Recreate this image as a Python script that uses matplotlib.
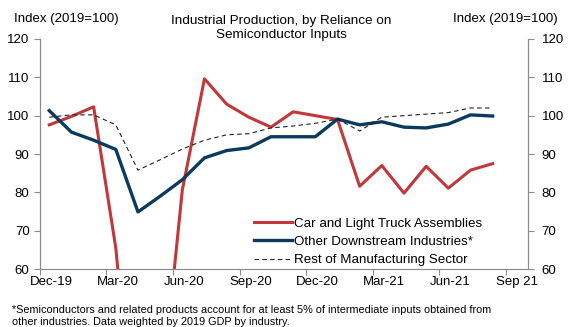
import numpy as np
import matplotlib
matplotlib.use('Agg')
import matplotlib.pyplot as plt

plt.rcParams['font.family'] = ['Liberation Sans', 'DejaVu Sans']

# monthly data, Dec 2019 .. Aug 2021
months = np.arange(21)
cars = [97.6, 99.8, 102.3, 65.5, 5.0, 23.5, 80.6, 109.6, 103.0, 99.6, 97.0,
        101.0, 100.0, 99.0, 81.6, 87.0, 79.8, 86.8, 81.1, 85.8, 87.5]
downstream = [101.3, 95.7, 93.6, 91.2, 74.9, 79.0, 83.3, 89.0, 90.9, 91.6, 94.5,
              94.5, 94.5, 99.1, 97.6, 98.4, 97.0, 96.8, 97.8, 100.2, 99.9]
rest = [99.6, 100.2, 100.2, 97.6, 85.8, 88.5, 91.3, 93.6, 95.0, 95.3, 96.8,
        97.3, 98.0, 99.1, 96.0, 99.6, 100.0, 100.4, 100.8, 102.0, 102.0]
tick_labels = ['Dec-19', 'Mar-20', 'Jun-20', 'Sep-20', 'Dec-20', 'Mar-21', 'Jun-21', 'Sep 21']

red = '#C1373A'
navy = '#0B3A5E'
grey = '#8C8C8C'

fig = plt.figure(figsize=(5.82, 3.27), dpi=100)
ax = fig.add_axes([0.0687, 0.177, 0.838, 0.704])

x = months + 0.42  # points sit mid-month
ax.plot(x, cars, color=red, lw=2.2, label='Car and Light Truck Assemblies')
ax.plot(x, downstream, color=navy, lw=2.4, label='Other Downstream Industries*')
ax.plot(x, rest, color='#222222', lw=0.8, ls=(0, (4, 3)), label='Rest of Manufacturing Sector')

ax.set_xlim(0, 22)
ax.set_ylim(60, 120)
ax.set_yticks(range(60, 121, 10))
# tick marks at month starts, labels centred on the month
ax.set_xticks(range(0, 22, 3))
ax.set_xticklabels([])
ax.set_xticks(np.arange(0, 22, 3) + 0.5, minor=True)
ax.set_xticklabels(tick_labels, minor=True)
ax.tick_params(axis='x', which='minor', length=0, pad=5, labelsize=9.5)

ax2 = ax.twinx()
ax2.set_ylim(60, 120)
ax2.set_yticks(range(60, 121, 10))

for a in (ax, ax2):
    a.spines['top'].set_visible(False)
    for s in ('left', 'right', 'bottom'):
        a.spines[s].set_color(grey)
    a.tick_params(which='major', colors=grey, labelcolor='black', labelsize=9.5, length=4, width=0.8)
ax2.tick_params(axis='y', pad=6)

fig.text(0.024, 0.925, 'Index (2019=100)', fontsize=9.5, va='bottom')
fig.text(0.958, 0.925, 'Index (2019=100)', fontsize=9.5, va='bottom', ha='right')
fig.text(0.483, 0.955, 'Industrial Production, by Reliance on\nSemiconductor Inputs',
         fontsize=9.7, ha='center', va='top', linespacing=1.2)

leg = ax.legend(loc='lower right', bbox_to_anchor=(0.913, 0.0), frameon=False,
                fontsize=9.6, handlelength=2.8, handletextpad=0.2, labelspacing=0.45,
                borderaxespad=0.0, borderpad=0.2)

fig.text(0.02, 0.0, '*Semiconductors and related products account for at least 5% of intermediate inputs obtained from\n'
         'other industries. Data weighted by 2019 GDP by industry.',
         fontsize=7.8, va='bottom', linespacing=1.3)

fig.savefig('out.png', dpi=100)
